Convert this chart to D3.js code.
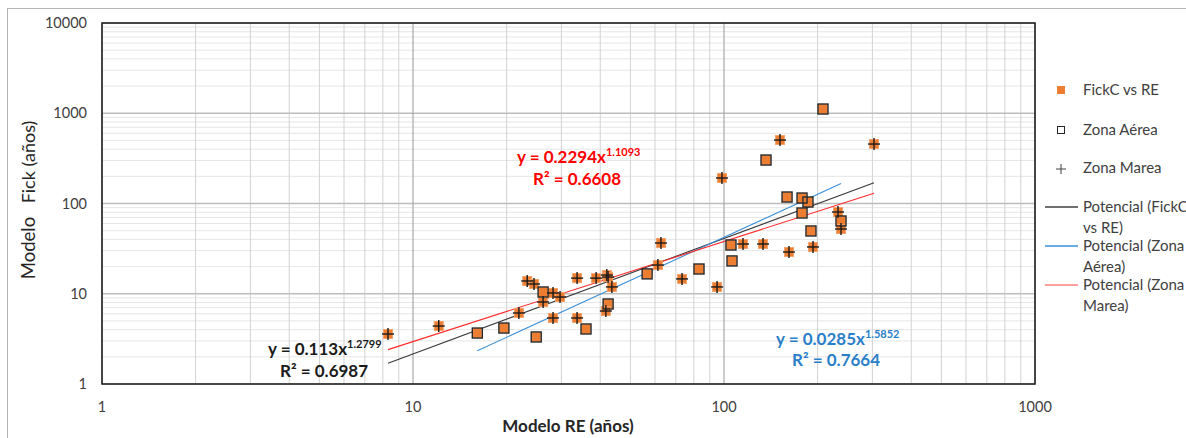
<!DOCTYPE html>
<html>
<head>
<meta charset="utf-8">
<script src="https://cdn.jsdelivr.net/npm/d3@7"></script>
<style>
  body { margin: 0; background: #fff; }
  text { font-family: Lato, "Open Sans", sans-serif; }
</style>
</head>
<body>
<div id="chart"></div>
<script>
// Zona Aerea points (RE years, Fick years)
var reAerea   = [16.1, 19.6, 24.9, 26.2, 36.0, 42.4, 56.6, 83.1, 105.3, 106.1, 136.5, 159.5, 178.2, 186.2, 178.2, 190.4, 208.1, 237.8]
var fickAerea = [3.67, 4.17, 3.32, 10.46, 4.07, 7.7, 16.6, 18.8, 34.7, 23.1, 303, 118, 115, 103.9, 78.5, 49.6, 1114, 64.0]

// Zona Marea points
var reMarea   = [8.31, 12.1, 21.9, 23.3, 24.5, 26.2, 28.2, 28.2, 29.7, 33.7, 33.7, 38.8, 42.0, 42.4, 43.6, 41.7, 61.3, 62.7, 73.3, 95.0, 98.5, 115.1, 133.5, 151.4, 161.8, 193.3, 232.6, 237.8, 303.6]
var fickMarea = [3.58, 4.39, 6.12, 13.85, 12.83, 8.1, 10.2, 5.39, 9.2, 14.9, 5.39, 14.9, 16.1, 15.3, 11.9, 6.44, 20.8, 36.5, 14.6, 11.9, 191.7, 35.6, 35.6, 505, 29.0, 33.0, 80.5, 52.2, 456]

// power trendlines y = a * x^b
var trendLabels = [["Potencial (FickC", "vs RE)"], ["Potencial (Zona", "Aérea)"], ["Potencial (Zona", "Marea)"]]
var trendA = [0.113, 0.0285, 0.2294]
var trendB = [1.2799, 1.5852, 1.1093]
var trendR2 = ["0.6987", "0.7664", "0.6608"]
var trendColors = ["#3a3a3a", "#3b8fd6", "#ff2a2a"]

var xTicks = [1, 10, 100, 1000]
var yTicks = [1, 10, 100, 1000, 10000]

var width = 1186, height = 438
var svg = d3.select("#chart").append("svg")
    .attr("width", width)
    .attr("height", height)

// outer chart border
svg.append("rect")
    .attr("x", 7.5).attr("y", 8.5)
    .attr("width", 1200).attr("height", 450)
    .attr("fill", "none").attr("stroke", "#b4b4b4")

var x = d3.scaleLog().domain([1, 1000]).range([102, 1035])
var y = d3.scaleLog().domain([1, 10000]).range([384, 23])

// gridlines
var minorX = [], minorY = []
for (var d of [1, 10, 100]) {
    for (var m = 2; m <= 9; m++) minorX.push(m * d)
}
for (var d of [1, 10, 100, 1000]) {
    for (var m = 2; m <= 9; m++) minorY.push(m * d)
}
svg.append("g").selectAll("line").data(minorY).enter().append("line")
    .attr("x1", x(1)).attr("x2", x(1000))
    .attr("y1", function (d) { return y(d) }).attr("y2", function (d) { return y(d) })
    .attr("stroke", "#e6e6e6").attr("stroke-width", 1)
svg.append("g").selectAll("line").data(minorX).enter().append("line")
    .attr("y1", y(1)).attr("y2", y(10000))
    .attr("x1", function (d) { return x(d) }).attr("x2", function (d) { return x(d) })
    .attr("stroke", "#d2d2d2").attr("stroke-width", 1)
svg.append("g").selectAll("line").data(yTicks).enter().append("line")
    .attr("x1", x(1)).attr("x2", x(1000))
    .attr("y1", function (d) { return y(d) }).attr("y2", function (d) { return y(d) })
    .attr("stroke", "#bdbdbd").attr("stroke-width", 1.5)
svg.append("g").selectAll("line").data(xTicks).enter().append("line")
    .attr("y1", y(1)).attr("y2", y(10000))
    .attr("x1", function (d) { return x(d) }).attr("x2", function (d) { return x(d) })
    .attr("stroke", "#a8a8a8").attr("stroke-width", 1.2)

// plot frame
svg.append("rect")
    .attr("x", x(1)).attr("y", y(10000))
    .attr("width", x(1000) - x(1)).attr("height", y(1) - y(10000))
    .attr("fill", "none").attr("stroke", "#1a1a1a").attr("stroke-width", 1.5)

// tick labels
svg.append("g").selectAll("text").data(yTicks).enter().append("text")
    .attr("x", 87).attr("y", function (d) { return y(d) + 5 })
    .attr("text-anchor", "end").attr("font-size", 14.5).attr("fill", "#404040")
    .text(function (d) { return d })
svg.append("g").selectAll("text").data(xTicks).enter().append("text")
    .attr("x", function (d) { return x(d) }).attr("y", 412)
    .attr("text-anchor", "middle").attr("font-size", 14.5).attr("fill", "#404040")
    .text(function (d) { return d })

// axis titles
svg.append("text")
    .attr("x", 568).attr("y", 432)
    .attr("text-anchor", "middle").attr("font-size", 17).attr("font-weight", "bold").attr("fill", "#262626")
    .text("Modelo RE (años)")
svg.append("text")
    .attr("transform", "translate(35,248) rotate(-90)")
    .attr("text-anchor", "middle").attr("font-size", 18.5).attr("fill", "#262626")
    .text("Modelo")
svg.append("text")
    .attr("transform", "translate(35,162) rotate(-90)")
    .attr("text-anchor", "middle").attr("font-size", 18).attr("fill", "#262626")
    .text("Fick (años)")

// trendlines
var allRE = reAerea.concat(reMarea)
var seriesRE = [allRE, reAerea, reMarea]
var line = d3.line().x(function (d) { return x(d[0]) }).y(function (d) { return y(d[1]) })
for (var i = 0; i < 3; i++) {
    var ext = d3.extent(seriesRE[i])
    var pts = [ext[0], ext[1]].map(function (v) { return [v, trendA[i] * Math.pow(v, trendB[i])] })
    svg.append("path").datum(pts)
        .attr("d", line)
        .attr("fill", "none").attr("stroke", trendColors[i]).attr("stroke-width", 1.1)
}

// points: orange squares for all, overlaid by hollow squares / plus signs
var allPts = reAerea.map(function (v, i) { return [v, fickAerea[i]] })
    .concat(reMarea.map(function (v, i) { return [v, fickMarea[i]] }))
var s = 9
svg.append("g").selectAll("rect").data(allPts).enter().append("rect")
    .attr("x", function (d) { return x(d[0]) - s / 2 })
    .attr("y", function (d) { return y(d[1]) - s / 2 })
    .attr("width", s).attr("height", s)
    .attr("fill", "#ed7d31").attr("stroke", "#f3a26c").attr("stroke-width", 1)
svg.append("g").selectAll("rect").data(reAerea).enter().append("rect")
    .attr("x", function (d) { return x(d) - 5 })
    .attr("y", function (d, i) { return y(fickAerea[i]) - 5 })
    .attr("width", 10).attr("height", 10)
    .attr("fill", "none").attr("stroke", "#262626").attr("stroke-width", 1.4)
var plus = svg.append("g").selectAll("g").data(reMarea).enter().append("g")
    .attr("transform", function (d, i) { return "translate(" + x(d) + "," + y(fickMarea[i]) + ")" })
plus.append("line").attr("x1", -6).attr("x2", 6).attr("y1", 0).attr("y2", 0)
    .attr("stroke", "#1a1a1a").attr("stroke-width", 1.4)
plus.append("line").attr("x1", 0).attr("x2", 0).attr("y1", -6).attr("y2", 6)
    .attr("stroke", "#1a1a1a").attr("stroke-width", 1.4)

// trendline equations
var eqPos = [[268, 355, 280, 377], [776, 345, 792, 366], [517, 163, 533, 185]]
var eqColors = ["#1a1a1a", "#2a7fc9", "#ff0000"]
for (var i = 0; i < 3; i++) {
    var t = svg.append("text")
        .attr("x", eqPos[i][0]).attr("y", eqPos[i][1])
        .attr("font-size", 17).attr("font-weight", "bold").attr("fill", eqColors[i])
    t.append("tspan").text("y = " + trendA[i] + "x")
    t.append("tspan").attr("dy", -7).attr("font-size", 11).text(trendB[i])
    svg.append("text")
        .attr("x", eqPos[i][2]).attr("y", eqPos[i][3])
        .attr("font-size", 17).attr("font-weight", "bold").attr("fill", eqColors[i])
        .text("R² = " + trendR2[i])
}

// legend
var lg = svg.append("g")
lg.append("rect").attr("x", 1057).attr("y", 86).attr("width", 8).attr("height", 8).attr("fill", "#ed7d31")
lg.append("rect").attr("x", 1057.5).attr("y", 126.5).attr("width", 7).attr("height", 7)
    .attr("fill", "none").attr("stroke", "#262626").attr("stroke-width", 1)
lg.append("line").attr("x1", 1056).attr("x2", 1066).attr("y1", 169).attr("y2", 169).attr("stroke", "#404040")
lg.append("line").attr("x1", 1061).attr("x2", 1061).attr("y1", 164).attr("y2", 174).attr("stroke", "#404040")
var legendText = [["FickC vs RE", 95], ["Zona Aérea", 135], ["Zona Marea", 173]]
lg.selectAll("text.sym").data(legendText).enter().append("text")
    .attr("x", 1083).attr("y", function (d) { return d[1] })
    .attr("font-size", 15).attr("fill", "#404040")
    .text(function (d) { return d[0] })
var legendLineY = [207, 246, 285]
var legendLineColors = ["#404040", "#3b8fd6", "#ff8080"]
for (var i = 0; i < 3; i++) {
    lg.append("line").attr("x1", 1045).attr("x2", 1078)
        .attr("y1", legendLineY[i]).attr("y2", legendLineY[i])
        .attr("stroke", legendLineColors[i]).attr("stroke-width", 1.3)
    var lt = lg.append("text").attr("x", 1083).attr("y", legendLineY[i] + 5)
        .attr("font-size", 15).attr("fill", "#404040")
    lt.append("tspan").text(trendLabels[i][0])
    lt.append("tspan").attr("x", 1083).attr("dy", 21).text(trendLabels[i][1])
}
</script>
</body>
</html>
